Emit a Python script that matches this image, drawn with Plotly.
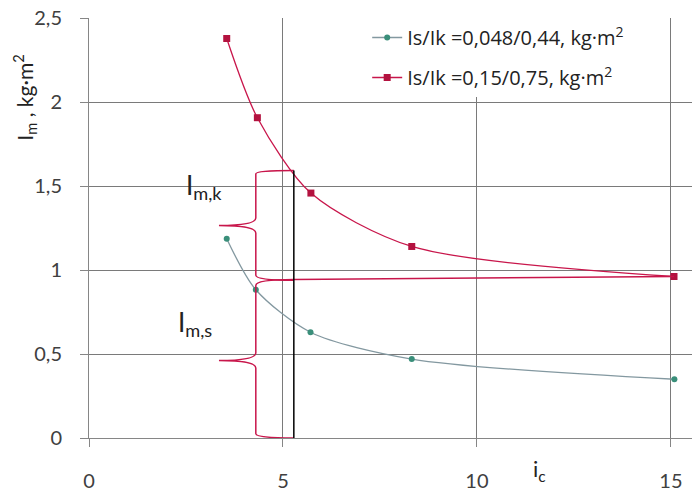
import plotly.graph_objects as go

# ---- data ----
ic_s = [3.55, 4.30, 5.71, 8.32, 15.09]
im_s = [1.187, 0.883, 0.630, 0.470, 0.350]
ic_k = [3.55, 4.34, 5.72, 8.32, 15.08]
im_k = [2.38, 1.908, 1.459, 1.141, 0.962]
name_s = "Is/Ik =0,048/0,44, kg·m<sup>2</sup>"
name_k = "Is/Ik =0,15/0,75, kg·m<sup>2</sup>"
x_ticks = [0, 5, 10, 15]
y_ticks = [0, 0.5, 1, 1.5, 2, 2.5]

# brace annotation levels (data units)
brace_spine_x = 4.30
brace_end_x = 5.28
brace_tip_x = 3.35
brace_k = (0.94, 1.594, 1.266)   # bottom, top, tip
brace_s = (0.0, 0.944, 0.462)
level_line = (0.944, 0.962)       # red horizontal line start/end levels

RED = "#c8164b"
FONT = "Lato"

fig = go.Figure()
fig.add_trace(go.Scatter(
    x=ic_s, y=im_s, mode="lines+markers", name=name_s,
    line=dict(color="#8398a0", width=1.3, shape="spline", smoothing=0.8),
    marker=dict(color="#3a8f7a", size=6, symbol="circle"),
    legendgroup="s"))
fig.add_trace(go.Scatter(
    x=ic_k, y=im_k, mode="lines+markers", name=name_k,
    line=dict(color=RED, width=1.3, shape="spline", smoothing=0.8),
    marker=dict(color="#b3123f", size=7, symbol="square"),
    legendgroup="k"))


def brace_path(y0, y1, ym, xs, xe, xt, r0=0.03, r1=0.02, d=0.045):
    return (f"M {xe},{y1} Q {xs},{y1} {xs},{y1 - r1} "
            f"L {xs},{ym + d} Q {xs},{ym} {xt},{ym} "
            f"Q {xs},{ym} {xs},{ym - d} "
            f"L {xs},{y0 + r0} Q {xs},{y0} {xe},{y0}")


shapes = []
shapes.append(dict(type="path", xref="x", yref="y",
                   path=brace_path(brace_k[0], brace_k[1], brace_k[2],
                                   brace_spine_x, brace_end_x, brace_tip_x),
                   line=dict(color=RED, width=1.5)))
shapes.append(dict(type="path", xref="x", yref="y",
                   path=brace_path(brace_s[0], brace_s[1], brace_s[2],
                                   brace_spine_x, brace_end_x, brace_tip_x,
                                   r0=0.025, r1=0.035),
                   line=dict(color=RED, width=1.5)))
shapes.append(dict(type="line", xref="x", yref="y",
                   x0=brace_end_x, x1=ic_k[-1], y0=level_line[0], y1=level_line[1],
                   line=dict(color=RED, width=1.5)))
shapes.append(dict(type="line", xref="x", yref="y",
                   x0=brace_end_x, x1=brace_end_x, y0=0, y1=brace_k[1],
                   line=dict(color="black", width=1.5)))

annotations = [
    dict(text="I<sub>m,k</sub>", x=2.45, y=1.50, xref="x", yref="y",
         showarrow=False, xanchor="left", yanchor="middle",
         font=dict(family=FONT, size=26, color="#222")),
    dict(text="I<sub>m,s</sub>", x=2.25, y=0.68, xref="x", yref="y",
         showarrow=False, xanchor="left", yanchor="middle",
         font=dict(family=FONT, size=26, color="#222")),
    dict(text="I<sub>m</sub> , kg·m<sup>2</sup>", x=-0.105, y=0.81,
         xref="paper", yref="paper", textangle=-90, showarrow=False,
         xanchor="center", yanchor="middle",
         font=dict(family=FONT, size=21, color="#222")),
    dict(text="i<sub>c</sub>", x=11.62, y=-0.075, xref="x", yref="paper",
         showarrow=False, xanchor="center", yanchor="middle",
         font=dict(family=FONT, size=22, color="#222")),
]

axis_common = dict(showgrid=True, gridcolor="#7a7a7a", gridwidth=1,
                   showline=True, linecolor="#868686", linewidth=1,
                   ticks="outside", ticklen=8, tickcolor="#868686",
                   tickfont=dict(family=FONT, size=20, color="#404040"),
                   ticklabeloverflow="allow",
                   zeroline=False, mirror=False, automargin=False)

# the page body adds an 8 px offset, so the figure is sized/margined to compensate
fig.update_layout(
    width=692, height=485,
    margin=dict(l=81, r=0, t=10, b=55),
    paper_bgcolor="white", plot_bgcolor="white",
    separators=", ",
    xaxis=dict(range=[0, 15.75], tickvals=x_ticks, ticklabelstandoff=17,
               **axis_common),
    yaxis=dict(range=[0, 2.502], tickvals=y_ticks, ticklabelstandoff=14,
               **axis_common),
    showlegend=True,
    legend=dict(x=0.4553, y=1.0, xanchor="left", yanchor="top",
                bgcolor="white", borderwidth=0, traceorder="grouped",
                tracegroupgap=11,
                font=dict(family="Open Sans", size=20, color="#222")),
    shapes=shapes, annotations=annotations,
    font=dict(family=FONT),
)

fig.write_html("out.html")
